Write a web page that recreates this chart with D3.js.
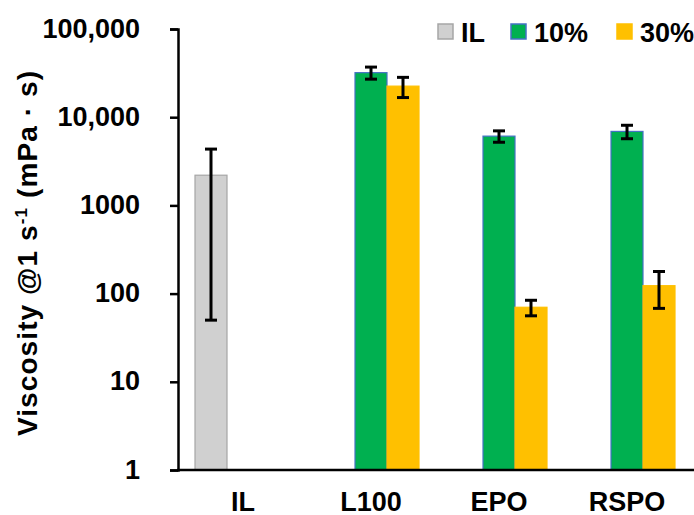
<!DOCTYPE html>
<html>
<head>
<meta charset="utf-8">
<script src="https://cdn.jsdelivr.net/npm/d3@7"></script>
<style>
  body { margin: 0; background: #fff; }
  svg text { font-family: "Liberation Sans", Arial, sans-serif; font-weight: bold; fill: #000; }
</style>
</head>
<body>
<script>
// Chart data
const categories = ["IL", "L100", "EPO", "RSPO"];
const seriesNames = ["IL", "10%", "30%"];
const ilValues = [2200, null, null, null];
const ilErrors = [2150, null, null, null];
const tenValues = [null, 32000, 6100, 6900];
const tenErrors = [null, 5000, 900, 1200];
const thirtyValues = [null, 22500, 70, 123];
const thirtyErrors = [null, 5800, 14, 55];
const yTicks = [1, 10, 100, 1000, 10000, 100000];
const yTickLabels = ["1", "10", "100", "1000", "10,000", "100,000"];

const width = 694;
const height = 515;

const colors = { "IL": "#d0d0d0", "10%": "#00b050", "30%": "#ffc000" };
const strokes = { "IL": "#a6a6a6", "10%": "#4472c4", "30%": "#ffc000" };

const svg = d3.select("body")
  .append("svg")
  .attr("width", width)
  .attr("height", height);

// scales
const x0 = d3.scaleBand()
  .domain(categories)
  .range([179, 691]);

const x1 = d3.scaleBand()
  .domain(seriesNames)
  .range([0, x0.bandwidth()])
  .paddingOuter(0.5);

const y = d3.scaleLog()
  .domain([1, 100000])
  .range([470, 29]);

// build rows from the arrays
const valueSets = [ilValues, tenValues, thirtyValues];
const errorSets = [ilErrors, tenErrors, thirtyErrors];
const rows = [];
seriesNames.forEach((s, si) => {
  categories.forEach((c, ci) => {
    if (valueSets[si][ci] != null) {
      rows.push({ cat: c, series: s, value: valueSets[si][ci], err: errorSets[si][ci] });
    }
  });
});

// bars
svg.selectAll(".bar")
  .data(rows)
  .enter()
  .append("rect")
  .attr("class", "bar")
  .attr("x", (d) => x0(d.cat) + x1(d.series))
  .attr("width", x1.bandwidth())
  .attr("y", (d) => y(d.value))
  .attr("height", (d) => y(1) - y(d.value))
  .style("fill", (d) => colors[d.series])
  .style("stroke", (d) => strokes[d.series])
  .style("stroke-width", 1.2);

// error bars
const errG = svg.selectAll(".err")
  .data(rows)
  .enter()
  .append("g")
  .attr("class", "err")
  .attr("transform", (d) => "translate(" + (x0(d.cat) + x1(d.series) + x1.bandwidth() / 2) + ",0)");

errG.append("line")
  .attr("y1", (d) => y(d.value + d.err))
  .attr("y2", (d) => y(Math.max(d.value - d.err, 1)))
  .style("stroke", "#000")
  .style("stroke-width", 3);

errG.append("line")
  .attr("x1", -6).attr("x2", 6)
  .attr("y1", (d) => y(d.value + d.err))
  .attr("y2", (d) => y(d.value + d.err))
  .style("stroke", "#000")
  .style("stroke-width", 3);

errG.append("line")
  .attr("x1", -6).attr("x2", 6)
  .attr("y1", (d) => y(Math.max(d.value - d.err, 1)))
  .attr("y2", (d) => y(Math.max(d.value - d.err, 1)))
  .style("stroke", "#000")
  .style("stroke-width", 3);

// y axis
const yAxis = svg.append("g")
  .attr("class", "axis")
  .attr("transform", "translate(178,0)")
  .call(d3.axisLeft(y)
    .tickValues(yTicks)
    .tickFormat((d, i) => yTickLabels[i])
    .tickSizeOuter(0)
    .tickSize(8)
    .tickPadding(30));

yAxis.select(".domain").style("stroke", "#000").style("stroke-width", 2.5);
yAxis.selectAll("line").style("stroke", "#000").style("stroke-width", 2.5);
yAxis.selectAll("text")
  .style("font-size", "27px")
  .attr("dy", "0.3em");

// x axis
const xAxis = svg.append("g")
  .attr("class", "axis")
  .attr("transform", "translate(0,470)")
  .call(d3.axisBottom(x0).tickSize(0).tickPadding(22));

xAxis.select(".domain").remove();
xAxis.append("line")
  .attr("x1", 177)
  .attr("x2", width)
  .style("stroke", "#000")
  .style("stroke-width", 2.5);
xAxis.selectAll("text")
  .style("font-size", "27px");

// y axis title
svg.append("text")
  .attr("transform", "translate(37,253) rotate(-90)")
  .attr("text-anchor", "middle")
  .style("font-size", "28px")
  .style("letter-spacing", "1.1px")
  .call((t) => {
    t.append("tspan").text("Viscosity @1 s");
    t.append("tspan").attr("dy", -10).style("font-size", "17px").text("-1");
    t.append("tspan").attr("dy", 10).text(" (mPa \u00B7 s)");
  });

// legend
const legendX = [438, 511, 617];
const legend = svg.selectAll(".legend")
  .data(seriesNames)
  .enter()
  .append("g")
  .attr("class", "legend")
  .attr("transform", (d, i) => "translate(" + legendX[i] + ",24)");

legend.append("rect")
  .attr("width", 15)
  .attr("height", 15)
  .style("fill", (d) => colors[d])
  .style("stroke", (d) => strokes[d])
  .style("stroke-width", 1.5);

legend.append("text")
  .attr("x", 23)
  .attr("y", 18)
  .style("font-size", "27px")
  .text((d) => d);
</script>
</body>
</html>
